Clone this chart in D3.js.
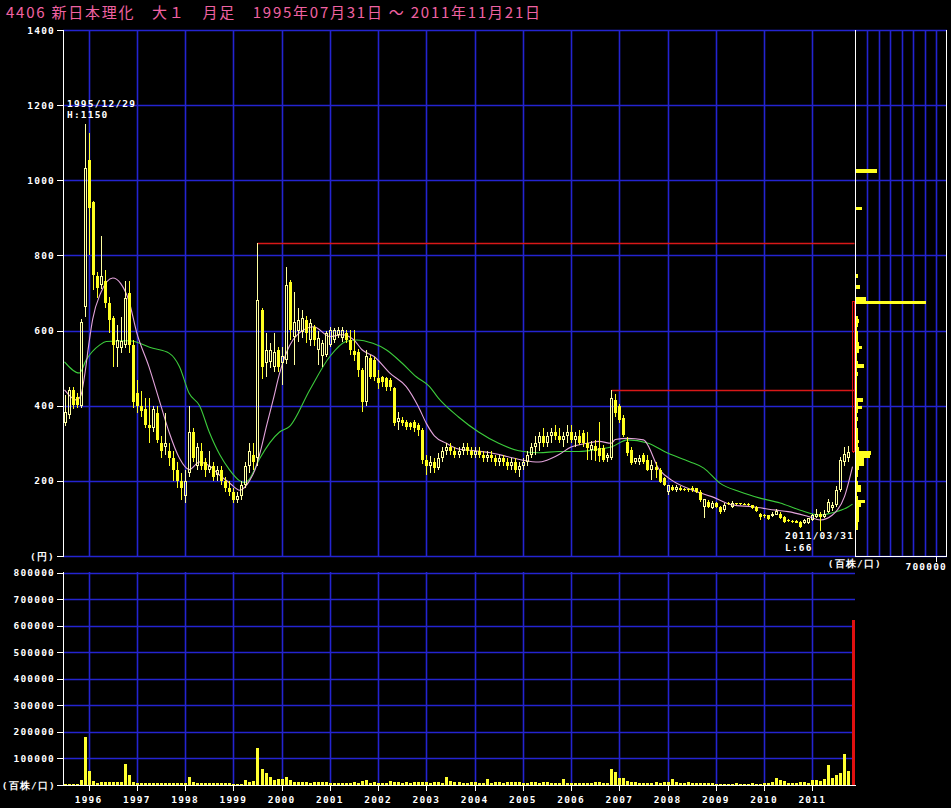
<!DOCTYPE html>
<html>
<head>
<meta charset="utf-8">
<script src="https://cdn.jsdelivr.net/npm/d3@7/dist/d3.min.js"></script>
<style>
body { margin: 0; background: #000; }
svg { display: block; }
</style>
</head>
<body>
<script>
// monthly candles, 1995-07 .. 2011-11 (one row per year)
var opens = [
    355,375,441,424,398,664,
    1054,943,744,722,731,673,633,553,553,562,700,562,
    434,400,390,350,340,380,300,290,280,260,230,200,
    160,220,330,240,280,250,230,240,215,230,200,180,
    170,150,160,190,240,270,260,655,513,517,504,548,
    513,522,730,584,600,597,628,575,610,548,531,535,
    562,575,588,579,593,575,545,544,495,411,526,522,
    473,477,473,468,446,357,362,357,353,357,348,335,
    255,240,250,235,260,280,290,280,270,280,290,280,
    270,280,270,260,270,260,250,260,250,240,250,230,
    240,250,270,290,300,320,300,320,330,320,310,320,
    330,310,320,327,300,282,294,287,287,260,260,415,
    398,367,304,282,251,251,269,256,229,238,229,207,
    171,184,176,180,178,178,180,180,171,131,144,128,
    140,131,122,140,131,140,140,139,138,135,131,113,
    108,108,106,110,113,104,96,94,94,91,87,87,
    96,104,113,104,118,127,135,176,251,260,278
];
var highs = [
    428,450,450,433,630,1150,
    1125,945,757,851,760,690,640,615,637,731,731,575,
    469,440,420,420,400,400,320,380,300,280,250,220,
    230,400,340,300,300,260,280,250,240,240,210,200,
    180,170,200,250,300,300,832,660,593,566,593,557,
    557,770,735,703,660,655,640,630,615,600,575,600,
    610,606,610,610,601,601,601,550,500,548,535,530,
    495,480,477,475,450,384,370,362,357,362,353,340,
    270,265,260,275,290,300,300,290,290,300,300,290,
    290,290,280,280,280,270,270,270,260,260,260,250,
    260,280,300,320,330,340,330,340,350,340,330,350,
    350,330,335,335,330,305,309,356,295,275,442,430,
    405,375,318,290,262,269,275,269,256,251,235,210,
    185,189,190,185,182,182,185,182,175,153,148,146,
    144,134,142,144,146,142,142,142,140,136,133,115,
    112,110,118,124,116,106,98,96,96,93,98,102,
    112,124,117,122,153,145,185,264,290,293,680
];
var lows = [
    345,365,390,393,393,637,
    801,709,686,710,660,593,504,504,540,553,540,395,
    380,370,340,300,330,300,260,270,240,200,180,150,
    140,210,250,230,230,210,220,200,200,190,170,160,
    140,140,150,180,220,230,240,470,477,500,491,490,
    455,510,575,508,570,580,566,560,560,508,504,530,
    555,566,580,570,566,535,520,477,384,400,470,465,
    445,450,440,440,345,335,345,335,335,330,320,245,
    215,220,220,230,250,270,270,260,260,270,270,260,
    260,260,250,250,250,240,240,240,230,230,220,210,
    230,240,260,270,280,290,290,300,310,300,290,300,
    300,290,295,290,256,256,252,250,250,250,255,370,
    355,318,265,243,245,243,245,225,202,207,195,185,
    162,172,170,172,172,170,170,168,145,100,128,125,
    127,113,118,135,128,136,136,136,133,126,117,95,
    102,96,104,108,98,89,90,89,87,75,85,85,
    94,100,66,100,115,120,130,170,240,250,275
];
var closes = [
    382,441,402,402,624,1032,
    925,748,713,744,673,629,562,575,571,686,562,410,
    400,385,350,340,390,310,280,300,260,230,200,180,
    200,330,260,290,240,230,240,210,230,200,180,170,
    150,160,190,240,280,250,681,504,548,548,544,504,
    531,721,601,624,628,633,593,619,575,579,566,593,
    601,601,601,601,575,548,535,495,411,531,477,477,
    460,464,451,451,353,366,353,344,344,340,335,255,
    240,250,235,260,280,290,280,270,280,290,280,270,
    280,270,260,270,260,250,260,250,240,250,230,240,
    250,270,290,300,320,300,320,330,320,310,320,330,
    310,320,300,300,287,296,279,265,256,269,420,380,
    362,322,273,247,260,260,251,229,243,229,198,189,
    189,176,184,175,177,176,175,171,149,153,131,142,
    131,118,136,139,142,138,139,138,135,127,120,104,
    106,98,113,120,100,91,93,91,89,78,96,100,
    109,113,104,113,144,135,176,256,272,278,679
];
// volume (百株)
var volumes = [
    4000,4000,4000,4000,19000,182000,
    53000,15000,9000,11000,11000,11000,11000,11000,11000,79000,38000,10000,
    8000,9000,8000,7000,9000,8000,7000,7000,6000,7000,8000,9000,
    9000,30000,11000,7000,6000,6000,6000,7000,6000,6000,6000,6000,
    5000,5000,5000,19000,11000,15000,140000,60000,46000,31000,19000,23000,
    23000,31000,19000,11000,10000,12000,10000,9000,10000,11000,10000,12000,
    8000,7000,9000,8000,8000,9000,10000,8000,15000,19000,8000,10000,
    9000,8000,8000,15000,12000,12000,9000,10000,9000,10000,11000,10000,
    10000,9000,12000,10000,9000,29000,15000,10000,10000,9000,9000,10000,
    10000,9000,8000,23000,9000,12000,10000,9000,10000,12000,12000,10000,
    8000,9000,10000,12000,9000,10000,11000,9000,8000,9000,23000,8000,
    7000,8000,9000,8000,9000,8000,10000,12000,9000,8000,60000,48000,
    25000,28000,15000,12000,10000,9000,9000,8000,9000,10000,9000,10000,
    12000,23000,10000,9000,8000,10000,9000,8000,8000,9000,8000,7000,
    4000,5000,4000,4000,5000,6000,5000,4000,5000,6000,5000,4000,
    6000,8000,12000,28000,17000,15000,9000,9000,8000,10000,12000,9000,
    19000,19000,15000,22000,75000,25000,38000,44000,115000,53000,620000
];

// moving averages: [month index, price]
var maShort = [[0,442],[3,415],[4,425],[5,480],[6,560],[7,630],[9,700],[12,740],[14,725],[16,680],
    [18,593],[21,504],[23.7,410],[26,330],[28.6,260],[31,230],[33.6,250],[36,240],[38.6,215],[41,195],
    [43.6,175],[46,200],[47.4,230],[49,290],[50,335],[52,420],[53.5,486],[56,560],[58,590],[62,610],
    [66,584],[69,589],[72,575],[74,549],[77,531],[81,486],[85,451],[88,398],[90,353],[92,320],
    [95,300],[98,285],[102,280],[106,275],[110,265],[114,255],[118,250],[120,255],[123,270],[126,290],
    [130,300],[133,305],[136,300],[137,310],[140,313],[144,309],[148,229],[151,202],[156,176],[161,158],
    [166,136],[171,131],[177,122],[180,118],[185,105],[188,96],[191,109],[194,158],[196,238]];
var maLong = [[0,517],[3.7,487],[5.4,522],[8.8,562],[10.4,571],[16,573],[22,553],[26,540],[28.6,504],[31,433],
    [33.6,400],[36,330],[38.6,270],[41,230],[43.6,200],[45,195],[46,205],[48.6,260],[53.5,330],[56,345],
    [61,442],[66,531],[70,571],[72.6,575],[76.7,566],[80,549],[84,513],[87.5,477],[90.8,451],[93,420],
    [98,370],[103,330],[108,300],[113,280],[118,275],[123,278],[128,278],[133,285],[136,290],[140,309],
    [145,301],[150,274],[155.5,251],[159,234],[163,194],[168,171],[173,154],[178,141],[183,122],[188,109],
    [191,115],[195,131],[196,138]];

// volume by price band (lower edge of 10 yen band, volume)
var bandPrice = [70,80,90,100,110,120,130,140,150,160,170,180,190,200,210,220,230,240,250,260,270,280,290,
    300,310,320,330,340,350,360,370,380,390,400,410,420,430,440,450,460,470,480,490,500,510,520,530,540,
    550,560,570,580,590,600,610,620,630,670,680,710,740,920,1020];
var bandVol = [15000,20000,30000,25000,25000,30000,44000,81000,15000,12000,44000,44000,15000,12000,15000,20000,25000,72000,72000,120000,134000,25000,20000,
    25000,15000,15000,20000,12000,12000,15000,12000,20000,52000,15000,61000,12000,10000,8000,10000,12000,10000,15000,12000,72000,15000,12000,12000,30000,
    52000,25000,15000,20000,15000,10000,15000,23000,17000,613000,90000,38000,17000,52000,183000];

var years = ["1996","1997","1998","1999","2000","2001","2002","2003","2004","2005","2006","2007","2008","2009","2010","2011"];
var priceTicks = [200,400,600,800,1000,1200,1400];
var volTicks = [100000,200000,300000,400000,500000,600000,700000,800000];

var width = 951;
var height = 808;
var gridColor = "#2424d0";
var font = "'DejaVu Sans Mono', monospace";

var svg = d3.select("body")
    .append("svg")
    .attr("width", width)
    .attr("height", height)
    .style("background", "#000");

var n = closes.length;
var x = d3.scaleLinear().domain([0, n - 1]).range([64.5, 852.5]);
var y = d3.scaleLinear().domain([0, 1400]).range([556, 30]);
var yv = d3.scaleLinear().domain([0, 800000]).range([785, 572.7]);
var xh = d3.scaleLinear().domain([0, 700000]).range([856, 936]);

// month index of January for each year (data starts 1995-07)
function yearIndex(yr) {
    return (+yr - 1995) * 12 - 6;
}
function px(v) { return Math.round(v) + 0.5; }

// grids (slightly soft, like the original jpeg)
var grid = svg.append("g").attr("stroke", gridColor).attr("stroke-width", 1.6);
[0].concat(priceTicks).forEach(function(t) {
    grid.append("line").attr("x1", 63).attr("x2", 947).attr("y1", px(y(t))).attr("y2", px(y(t)));
});
years.forEach(function(yr) {
    var xx = px(x(yearIndex(yr)));
    grid.append("line").attr("x1", xx).attr("x2", xx).attr("y1", 30).attr("y2", 556);
    grid.append("line").attr("x1", xx).attr("x2", xx).attr("y1", 572).attr("y2", 785);
});
d3.range(100000, 700001, 100000).forEach(function(t) {
    grid.append("line").attr("x1", px(xh(t))).attr("x2", px(xh(t))).attr("y1", 30).attr("y2", 556);
});
volTicks.forEach(function(t) {
    grid.append("line").attr("x1", 63).attr("x2", 855).attr("y1", px(yv(t))).attr("y2", px(yv(t)));
});

// moving averages
var maLine = d3.line()
    .x(function(d) { return x(d[0]); })
    .y(function(d) { return y(d[1]); })
    .curve(d3.curveMonotoneX);
svg.append("path").datum(maLong).attr("d", maLine)
    .attr("fill", "none").attr("stroke", "#3ccc3c").attr("stroke-width", 1.1);
svg.append("path").datum(maShort).attr("d", maLine)
    .attr("fill", "none").attr("stroke", "#e4a4dc").attr("stroke-width", 1.1);

// red lines from the earlier highs
[48, 136].forEach(function(i) {
    svg.append("line")
        .attr("x1", px(x(i))).attr("x2", px(x(n - 1)) + 1)
        .attr("y1", px(y(highs[i]))).attr("y2", px(y(highs[i])))
        .attr("stroke", "#d81818").attr("stroke-width", 1.4);
});

// candles
var candles = svg.append("g").attr("shape-rendering", "crispEdges");
var candle = candles.selectAll(".candle")
    .data(closes)
    .enter()
    .append("g")
    .attr("class", "candle");

candle.each(function(c, i) {
    var g = d3.select(this);
    var o = opens[i];
    var up = c >= o;
    var last = i === n - 1;
    var col = last ? "#e01010" : (up ? "#ffffa0" : "#ffff20");
    var cx = Math.round(x(i));
    var top = Math.round(y(Math.max(o, c)));
    var bot = Math.round(y(Math.min(o, c)));
    g.append("line").attr("x1", cx + 0.5).attr("x2", cx + 0.5)
        .attr("y1", Math.round(y(highs[i]))).attr("y2", top).attr("stroke", col);
    g.append("line").attr("x1", cx + 0.5).attr("x2", cx + 0.5)
        .attr("y1", bot).attr("y2", Math.round(y(lows[i]))).attr("stroke", col);
    if (up) {
        g.append("rect").attr("x", cx - 0.5).attr("y", top + 0.5)
            .attr("width", 2).attr("height", Math.max(bot - top - 1, 1))
            .attr("fill", "none").attr("stroke", col);
    } else {
        g.append("rect").attr("x", cx - 1).attr("y", top)
            .attr("width", 3).attr("height", Math.max(bot - top, 1))
            .attr("fill", col);
    }
});

// volume bars
candles.selectAll(".vol")
    .data(volumes)
    .enter()
    .append("rect")
    .attr("class", "vol")
    .attr("x", function(d, i) { return Math.round(x(i)) - 1; })
    .attr("width", 3)
    .attr("y", function(d) { return Math.round(yv(d)); })
    .attr("height", function(d) { return 785 - Math.round(yv(d)); })
    .attr("fill", function(d, i) { return i === n - 1 ? "#e01010" : "#ffff30"; });

// volume by price
candles.selectAll(".band")
    .data(bandPrice)
    .enter()
    .append("rect")
    .attr("class", "band")
    .attr("x", 856)
    .attr("y", function(d) { return Math.round(y(d + 10)); })
    .attr("height", function(d) { return Math.round(y(d)) - Math.round(y(d + 10)); })
    .attr("width", function(d, i) { return Math.max(Math.round(xh(bandVol[i]) - 856), 1); })
    .attr("fill", "#ffff20");

// axes
var ax = svg.append("g").attr("stroke", "#fff").attr("stroke-width", 1).attr("shape-rendering", "crispEdges");
ax.append("line").attr("x1", 63.5).attr("x2", 63.5).attr("y1", 30).attr("y2", 557);
ax.append("line").attr("x1", 855.5).attr("x2", 855.5).attr("y1", 30).attr("y2", 557);
ax.append("line").attr("x1", 946.5).attr("x2", 946.5).attr("y1", 30).attr("y2", 557);
ax.append("line").attr("x1", 855).attr("x2", 947).attr("y1", 556.5).attr("y2", 556.5);
ax.append("line").attr("x1", px(xh(700000))).attr("x2", px(xh(700000))).attr("y1", 556).attr("y2", 562);
ax.append("line").attr("x1", 63.5).attr("x2", 63.5).attr("y1", 572).attr("y2", 786);
ax.append("line").attr("x1", 63).attr("x2", 856).attr("y1", 785.5).attr("y2", 785.5);
[0].concat(priceTicks).forEach(function(t) {
    ax.append("line").attr("x1", 57).attr("x2", 63).attr("y1", px(y(t))).attr("y2", px(y(t)));
});
[0].concat(volTicks).forEach(function(t) {
    ax.append("line").attr("x1", 57).attr("x2", 63).attr("y1", px(yv(t))).attr("y2", px(yv(t)));
});
years.forEach(function(yr) {
    var xx = px(x(yearIndex(yr)));
    ax.append("line").attr("x1", xx).attr("x2", xx).attr("y1", 785).attr("y2", 791);
});

// labels
function label(tx, xx, yy, anchor) {
    return svg.append("text")
        .attr("x", xx).attr("y", yy)
        .attr("text-anchor", anchor || "start")
        .attr("fill", "#fff")
        .style("font-family", font)
        .style("font-weight", "bold")
        .style("font-size", "9.5px")
        .style("letter-spacing", "1.2px")
        .text(tx);
}
priceTicks.forEach(function(t) { label(String(t), 55, y(t) + 3.5, "end"); });
label("(円)", 55, y(0) + 3.5, "end");
volTicks.forEach(function(t) { label(String(t), 55, yv(t) + 3.5, "end"); });
label("(百株/口)", 56, 789, "end");
years.forEach(function(yr) { label(yr, x(yearIndex(yr)), 803, "middle"); });
label("(百株/口)", 882, 567, "end");
label("700000", 947, 570, "end");
label("1995/12/29", 67, 107);
label("H:" + d3.max(highs), 67, 118);
label("2011/03/31", 785, 539);
label("L:" + d3.min(lows), 785, 551);

// title, stretched to the width it takes in the original
svg.append("text")
    .attr("x", 6).attr("y", 18)
    .attr("fill", "#f062a2")
    .attr("textLength", 534)
    .attr("lengthAdjust", "spacing")
    .style("font-family", "'Noto Sans CJK JP', sans-serif")
    .style("font-size", "15px")
    .attr("xml:space", "preserve")
    .text("4406 新日本理化　大１　月足　1995年07月31日 ～ 2011年11月21日");
</script>
</body>
</html>
